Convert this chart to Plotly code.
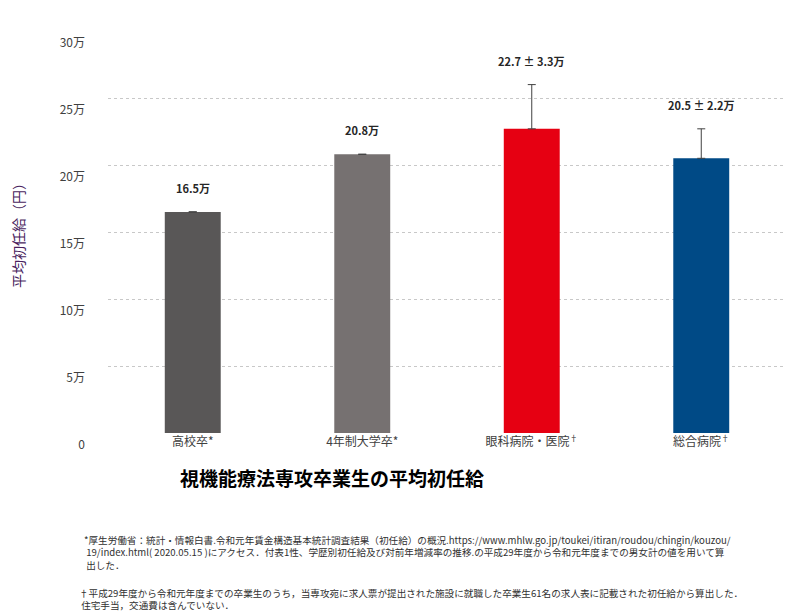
import plotly.graph_objects as go

categories = ["高校卒*", "4年制大学卒*", "眼科病院・医院<sup>†</sup>", "総合病院<sup>†</sup>"]
values = [16.5, 20.8, 22.7, 20.5]
errors = [0, 0, 3.3, 2.2]
labels = ["16.5万", "20.8万", "22.7 ± 3.3万", "20.5 ± 2.2万"]
colors = ["#595757", "#767171", "#E60012", "#004A86"]
tick_vals = [0, 5, 10, 15, 20, 25, 30]
tick_text = ["0", "5万", "10万", "15万", "20万", "25万", "30万"]

FONT = "Noto Sans CJK JP"

fig = go.Figure(go.Bar(
  x=categories, y=values, width=0.33,
  marker=dict(color=colors, line=dict(width=0)),
  error_y=dict(type="data", array=errors, arrayminus=[0] * len(errors), visible=True,
               color="#404040", thickness=1, width=4),
))

for c, v, e, t in zip(categories, values, errors, labels):
  fig.add_annotation(x=c, y=v + e, text="<b>" + t + "</b>", showarrow=False,
                     yshift=24, font=dict(size=11, color="#262626"))

fig.add_annotation(xref="paper", yref="paper", x=0.33, y=-0.15, showarrow=False,
                   text="<b>視機能療法専攻卒業生の平均初任給</b>",
                   font=dict(size=19, color="#000000"), xanchor="center")

note1 = ("*厚生労働省：統計・情報白書.令和元年賃金構造基本統計調査結果（初任給）の概況.https://www.mhlw.go.jp/toukei/itiran/roudou/chingin/kouzou/<br>"
         " 19/index.html( 2020.05.15 )にアクセス．付表1性、学歴別初任給及び対前年増減率の推移.の平成29年度から令和元年度までの男女計の値を用いて算<br>"
         " 出した．")
note2 = ("†平成29年度から令和元年度までの卒業生のうち，当専攻宛に求人票が提出された施設に就職した卒業生61名の求人表に記載された初任給から算出した．<br>"
         " 住宅手当，交通費は含んでいない．")
fig.add_annotation(xref="paper", yref="paper", x=-0.038, y=-0.245, showarrow=False,
                   text=note1, align="left", xanchor="left", yanchor="top",
                   font=dict(size=9.6, color="#303030"))
fig.add_annotation(xref="paper", yref="paper", x=-0.045, y=-0.375, showarrow=False,
                   text=note2, align="left", xanchor="left", yanchor="top",
                   font=dict(size=9.6, color="#303030"))

fig.update_layout(
  width=812, height=614,
  margin=dict(l=100, r=34, t=23, b=189),
  plot_bgcolor="white", paper_bgcolor="white",
  font=dict(family=FONT, size=12, color="#404040"),
  showlegend=False,
  xaxis=dict(showgrid=False, showline=False, ticks="", automargin=False,
             tickfont=dict(size=12, color="#404040")),
  yaxis=dict(range=[0, 30], tickvals=tick_vals, ticktext=tick_text, automargin=False,
             showgrid=True, gridcolor="#c8c8c8", griddash="dot", gridwidth=1,
             zeroline=False, ticklabelshift=12, ticklabelstandoff=22,
             tickfont=dict(size=12, color="#404040"),
             title=dict(text="平均初任給（円）", font=dict(size=14, color="#4a1e5e"), standoff=35)),
)

fig.write_html("out.html")
